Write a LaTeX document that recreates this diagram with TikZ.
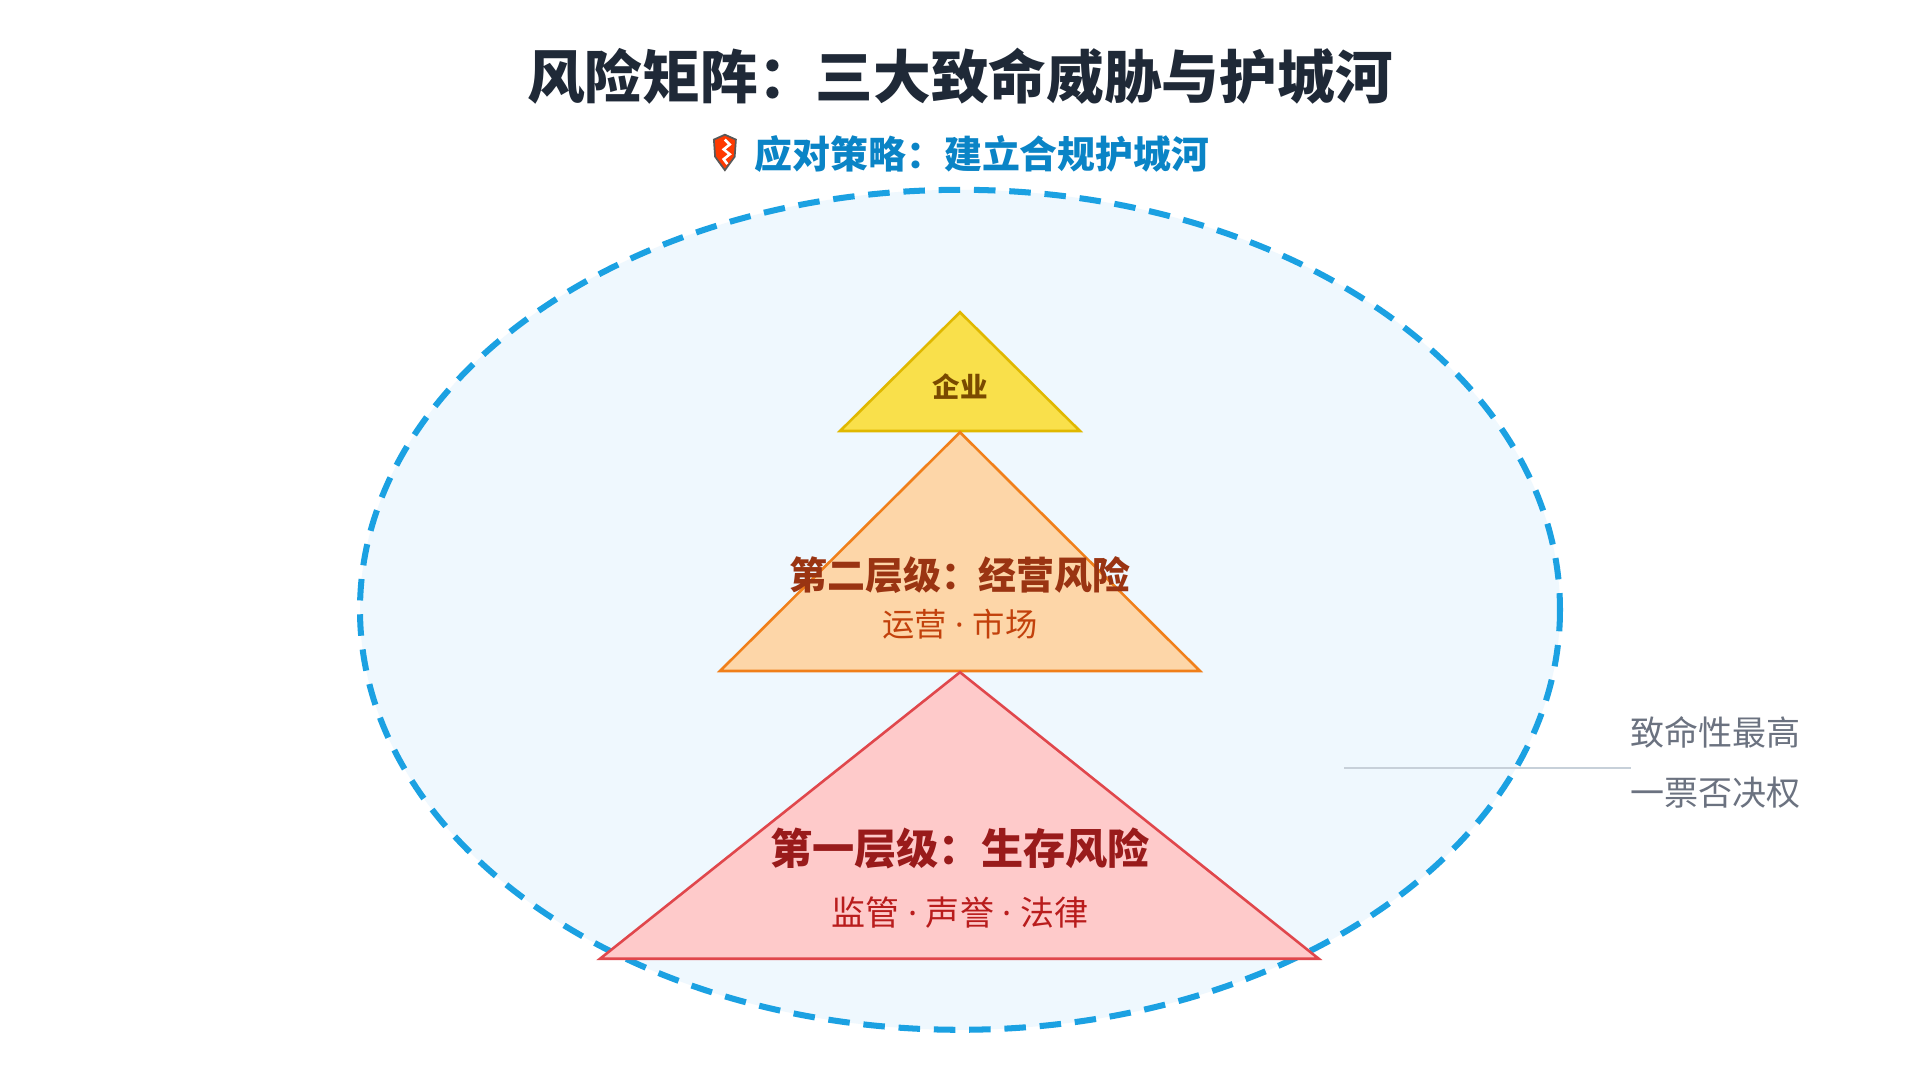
\documentclass[tikz,border=0pt]{standalone}
\usepackage{fontspec}
\newfontfamily\cjk{Noto Sans CJK SC}
\newfontfamily\latin{Noto Sans}
\usetikzlibrary{calc}
\definecolor{titlecol}{HTML}{1F2937}
\definecolor{moatblue}{HTML}{1BA1E2}
\definecolor{moatfill}{HTML}{EFF8FE}
\definecolor{subblue}{HTML}{0A84C6}
\definecolor{topfill}{HTML}{F9E04B}
\definecolor{topline}{HTML}{E0B800}
\definecolor{topText}{HTML}{7A4A00}
\definecolor{midfill}{HTML}{FDD6A8}
\definecolor{midline}{HTML}{F07F1A}
\definecolor{midText}{HTML}{9A3412}
\definecolor{midSub}{HTML}{C2410C}
\definecolor{lowfill}{HTML}{FECACA}
\definecolor{lowline}{HTML}{E0474C}
\definecolor{lowText}{HTML}{991B1B}
\definecolor{lowSub}{HTML}{B91C1C}
\definecolor{noteGray}{HTML}{6B7280}
\definecolor{noteLine}{HTML}{C7D0D9}
\newcommand{\sep}{{\latin\ ·\ }}
\tikzset{
  txt/.style={font=\cjk, inner sep=0pt, anchor=center},
  tier/.style={line width=0.6pt, line join=miter}
}
\begin{document}
\begin{tikzpicture}[x=0.01cm,y=-0.01cm]
        \useasboundingbox (0,0) rectangle (1568,882);
        \fill[white] (0,0) rectangle (1568,882);
        %%Moat
        \draw[moatblue, fill=moatfill, line width=1.4pt, dash pattern=on 5pt off 3.2pt]
        (784,498) ellipse [x radius=490, y radius=343];
        %%Title
        \node[txt, font=\cjk\bfseries\fontsize{13.4}{15}\selectfont, text=titlecol] (title) at (784,62) {风险矩阵：三大致命威胁与护城河};
        \node[txt, font=\cjk\bfseries\fontsize{8.8}{10}\selectfont, text=subblue] (strategy) at (802,126) {应对策略：建立合规护城河};
        %%Shield
        \draw[gray!70!black, fill=red!55!orange, line width=0.4pt]
        (583,114) to (592,110) to (601,114) to (600,128) to (592,139) to (584,128) to cycle;
        \draw[white, line width=0.6pt] (592,114) to (596,118) to (591,122) to (596,126) to (591,130) to (594,134);
        %%Tier_3
        \filldraw[tier, draw=topline, fill=topfill] (784,255) to (882,352) to (686,352) to cycle;
        \node[txt, font=\cjk\bfseries\fontsize{6.4}{8}\selectfont, text=topText] (firm) at (784,316) {企业};
        %%Tier_2
        \filldraw[tier, draw=midline, fill=midfill] (784,353) to (980,548) to (588,548) to cycle;
        \node[txt, font=\cjk\bfseries\fontsize{8.8}{10}\selectfont, text=midText] (opsTitle) at (784,470) {第二层级：经营风险};
        \node[txt, font=\cjk\fontsize{7.5}{9}\selectfont, text=midSub] (opsSub) at (784,510) {运营\sep 市场};
        %%Tier_1
        \filldraw[tier, draw=lowline, fill=lowfill] (784,549) to (1077,783) to (490,783) to cycle;
        \node[txt, font=\cjk\bfseries\fontsize{9.8}{11}\selectfont, text=lowText] (lifeTitle) at (784,693) {第一层级：生存风险};
        \node[txt, font=\cjk\fontsize{7.9}{10}\selectfont, text=lowSub] (lifeSub) at (784,745) {监管\sep 声誉\sep 法律};
        %%Note
        \coordinate (noteStart) at (1098,627);
        \coordinate (noteEnd) at (1332,627);
        \draw[noteLine, line width=0.5pt] (noteStart) to (noteEnd);
        \node[txt, font=\cjk\fontsize{7.9}{9}\selectfont, text=noteGray] (fatal) at (1401,598) {致命性最高};
        \node[txt, font=\cjk\fontsize{7.9}{9}\selectfont, text=noteGray] (veto) at (1401,647) {一票否决权};
\end{tikzpicture}
\end{document}
